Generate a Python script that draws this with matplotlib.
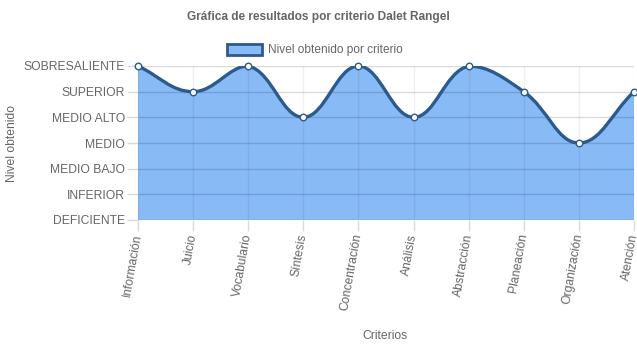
import matplotlib
matplotlib.use("Agg")
import matplotlib.pyplot as plt
import numpy as np
from matplotlib.path import Path
from matplotlib.patches import PathPatch, Patch

criterios = ["Información", "Juicio", "Vocabulario", "Síntesis", "Concentración",
             "Análisis", "Abstracción", "Planeación", "Organización", "Atención"]
niveles = ["DEFICIENTE", "INFERIOR", "MEDIO BAJO", "MEDIO", "MEDIO ALTO",
           "SUPERIOR", "SOBRESALIENTE"]
valores = [6, 5, 6, 4, 6, 4, 6, 5, 3, 5]

FILL = "#88baf6"
LINE = "#2c5a8d"
TXT = "#666666"

plt.rcParams["font.family"] = ["Liberation Sans", "DejaVu Sans"]


def spline_path(xs, ys, sx, sy, ymin, ymax, tension=0.4):
    # Chart.js style bezier control points, computed in pixel-like space
    X = np.asarray(xs, float) * sx
    Y = np.asarray(ys, float) * sy
    n = len(X)
    verts = [(xs[0], ys[0])]
    codes = [Path.MOVETO]
    cps = []
    for i in range(n):
        p = (X[i], Y[i])
        a = (X[i - 1], Y[i - 1]) if i > 0 else p
        b = (X[i + 1], Y[i + 1]) if i < n - 1 else p
        d01 = np.hypot(p[0] - a[0], p[1] - a[1])
        d12 = np.hypot(b[0] - p[0], b[1] - p[1])
        tot = d01 + d12
        s01 = d01 / tot if tot else 0
        s12 = d12 / tot if tot else 0
        fa, fb = tension * s01, tension * s12
        prev = (p[0] - fa * (b[0] - a[0]), p[1] - fa * (b[1] - a[1]))
        nxt = (p[0] + fb * (b[0] - a[0]), p[1] + fb * (b[1] - a[1]))
        cl = lambda q: (q[0] / sx, min(max(q[1] / sy, ymin), ymax))
        cps.append((cl(prev), cl(nxt)))
    for i in range(1, n):
        verts += [cps[i - 1][1], cps[i][0], (xs[i], ys[i])]
        codes += [Path.CURVE4] * 3
    return verts, codes


fig = plt.figure(figsize=(6.37, 3.48), dpi=100)
ax = fig.add_axes([138 / 637, 1 - 220 / 348, 496 / 637, 154 / 348])

x = np.arange(len(criterios))
verts, codes = spline_path(x, valores, 55.1, 25.67, 0, 6)

fill_verts = verts + [(x[-1], 0), (x[0], 0), (x[0], valores[0])]
fill_codes = codes + [Path.LINETO, Path.LINETO, Path.CLOSEPOLY]
ax.add_patch(PathPatch(Path(fill_verts, fill_codes), facecolor=FILL, edgecolor="none", zorder=1))
ax.add_patch(PathPatch(Path(verts, codes), facecolor="none", edgecolor=LINE, lw=2.4, zorder=3))
ax.scatter(x, valores, s=22, facecolor="white", edgecolor=LINE, linewidth=1.0, zorder=4, clip_on=False)

ax.set_xlim(0, len(criterios) - 1)
ax.set_ylim(0, 6)
ax.set_yticks(range(len(niveles)))
ax.set_yticklabels(niveles)
ax.set_xticks(x)
ax.set_xticklabels(criterios, rotation=80, ha="right", va="center", rotation_mode="anchor")

for v in range(len(niveles)):
    ax.axhline(v, color="black", alpha=0.14, lw=1, zorder=2)
for i in x:
    ax.axvline(i, color="black", alpha=0.06, lw=1, zorder=2)

for s in ax.spines.values():
    s.set_visible(False)
ax.tick_params(axis="both", length=8, color="#d9d9d9", width=1, labelsize=8.7, labelcolor=TXT)
ax.tick_params(axis="y", pad=1.5)
ax.tick_params(axis="x", pad=2)

fig.text(12 / 637, 1 - 143 / 348, "Nivel obtenido", rotation=90, ha="center", va="center",
         fontsize=8.7, color=TXT)
fig.text(385 / 637, 1 - 336 / 348, "Criterios", ha="center", va="center", fontsize=8.7, color=TXT)
fig.text(0.5, 1 - 17 / 348, "Gráfica de resultados por criterio Dalet Rangel", ha="center", va="center",
         fontsize=8.6, fontweight="bold", color=TXT)

handle = Patch(facecolor=FILL, edgecolor=LINE, linewidth=2)
fig.legend([handle], ["Nivel obtenido por criterio"], loc="center", bbox_to_anchor=(315 / 637, 1 - 50 / 348),
           frameon=False, fontsize=8.6, labelcolor=TXT, handlelength=2.9, handleheight=1.1,
           handletextpad=0.5)

fig.savefig("out.png", dpi=100)
